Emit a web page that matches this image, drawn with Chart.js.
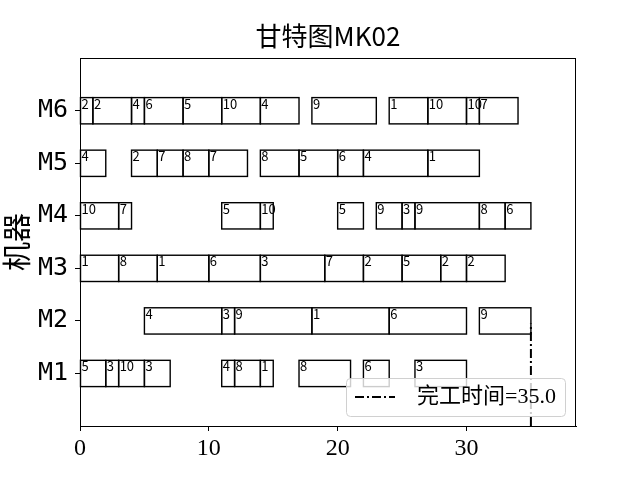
<!DOCTYPE html>
<html><head><meta charset="utf-8">
<script src="https://cdn.jsdelivr.net/npm/chart.js@4"></script>
<style>html,body{margin:0;padding:0;background:#fff}#wrap{width:640px;height:480px}</style>
</head><body><div id="wrap"><canvas id="c" width="640" height="480"></canvas></div>
<script>
const machines = ['M1','M2','M3','M4','M5','M6'];
const xTicks = [0,10,20,30];
const makespan = 35.0;
const makespanLineTop = 1.95;
const M1_jobs  = [5,3,10,3,4,8,1,8,6,3];
const M1_start = [0,2,3,5,11,12,14,17,22,26];
const M1_end   = [2,3,5,7,12,14,15,21,24,30];
const M2_jobs  = [4,3,9,1,6,9];
const M2_start = [5,11,12,18,24,31];
const M2_end   = [11,12,18,24,30,35];
const M3_jobs  = [1,8,1,6,3,7,2,5,2,2];
const M3_start = [0,3,6,10,14,19,22,25,28,30];
const M3_end   = [3,6,10,14,19,22,25,28,30,33];
const M4_jobs  = [10,7,5,10,5,9,3,9,8,6];
const M4_start = [0,3,11,14,20,23,25,26,31,33];
const M4_end   = [3,4,14,15,22,25,26,31,33,35];
const M5_jobs  = [4,2,7,8,7,8,5,6,4,1];
const M5_start = [0,4,6,8,10,14,17,20,22,27];
const M5_end   = [2,6,8,10,13,17,20,22,27,31];
const M6_jobs  = [2,2,4,6,5,10,4,9,1,10,10,7];
const M6_start = [0,1,4,5,8,11,14,18,24,27,30,31];
const M6_end   = [1,4,5,8,11,14,17,23,27,30,31,34];

const schedule = [
  [M1_jobs,M1_start,M1_end],[M2_jobs,M2_start,M2_end],[M3_jobs,M3_start,M3_end],
  [M4_jobs,M4_start,M4_end],[M5_jobs,M5_start,M5_end],[M6_jobs,M6_start,M6_end]
];

const barSets = schedule.map(([jobs,st,en],mi)=>({
  type:'bar',
  label: machines[mi],
  data: jobs.map((j,k)=>({x:[st[k],en[k]], y:mi+1, job:j})),
  backgroundColor:'rgba(255,255,255,0)',
  borderColor:'rgba(0,0,0,0)',
  borderWidth:0,
  grouped:false,
  categoryPercentage:1,
  barPercentage:0.5
}));

const lineSet = {
  type:'line',
  label:'完工时间=' + makespan.toFixed(1),
  data:[{x:makespan,y:0},{x:makespan,y:makespanLineTop}],
  borderColor:'#000',
  borderWidth:2,
  borderDash:[9,3,2,3],
  pointRadius:0,
  fill:false
};

const framePlugin = {
  id:'frame',
  afterDatasetsDraw(chart){
    const ctx = chart.ctx, a = chart.chartArea;
    ctx.save();
    chart.data.datasets.forEach((ds,di)=>{
      if (ds.type !== 'bar') return;
      const meta = chart.getDatasetMeta(di);
      meta.data.forEach((el,k)=>{
        const left = Math.min(el.x, el.base), right = Math.max(el.x, el.base);
        const top = el.y - el.height/2;
        ctx.strokeStyle = '#000';
        ctx.lineWidth = 1.4;
        ctx.strokeRect(left, top, right-left, el.height);
        ctx.font = '13px "Noto Sans CJK SC", "DejaVu Sans"';
        ctx.fillStyle = '#000';
        ctx.textAlign = 'left';
        ctx.textBaseline = 'top';
        ctx.fillText(String(ds.data[k].job), left + 1, top - 0.5);
      });
    });
    ctx.restore();
    ctx.save();
    ctx.strokeStyle = '#000';
    ctx.lineWidth = 1;
    ctx.strokeRect(Math.round(a.left)+0.5, Math.round(a.top)+0.5, Math.round(a.right-a.left)-1, Math.round(a.bottom-a.top));
    ctx.restore();
    ctx.save();
    const w = 219, h = 38;
    const lx = a.right - 11 - w, ly = a.bottom - 10 - h;
    ctx.beginPath();
    ctx.roundRect(lx+0.5, ly+0.5, w, h, 4);
    ctx.fillStyle = 'rgba(255,255,255,0.8)';
    ctx.fill();
    ctx.strokeStyle = '#d0d0d0';
    ctx.lineWidth = 1;
    ctx.stroke();
    ctx.beginPath();
    ctx.setLineDash([9,3,2,3]);
    ctx.strokeStyle = '#000';
    ctx.lineWidth = 2;
    ctx.moveTo(lx + 9, ly + 19);
    ctx.lineTo(lx + 49, ly + 19);
    ctx.stroke();
    ctx.setLineDash([]);
    ctx.fillStyle = '#000';
    ctx.font = '22px "Liberation Serif", "Noto Sans CJK SC"';
    ctx.textAlign = 'left';
    ctx.textBaseline = 'middle';
    ctx.fillText(lineSet.label, lx + 71, ly + 19);
    ctx.restore();
  }
};

new Chart(document.getElementById('c'), {
  data:{ datasets:[...barSets, lineSet] },
  options:{
    indexAxis:'y',
    responsive:false,
    animation:false,
    devicePixelRatio:1,
    layout:{padding:{left:0,right:64,top:0,bottom:0}},
    plugins:{
      legend:{display:false},
      tooltip:{enabled:false},
      title:{display:true, text:'甘特图MK02', fullSize:false, color:'#000',
        font:{family:'"Noto Sans CJK SC"', size:26, weight:'normal'}, padding:{top:21,bottom:6}}
    },
    scales:{
      x:{type:'linear', min:0, max:38.5, offset:false,
        afterBuildTicks:s=>{ s.ticks = xTicks.map(v=>({value:v})); },
        ticks:{color:'#000', font:{family:'"Liberation Serif"', size:24}, padding:3, maxRotation:0},
        grid:{drawOnChartArea:false, drawTicks:true, tickLength:5, color:'#000', offset:false},
        border:{display:true, color:'#000', width:1},
        afterFit:s=>{ s.height = 54; }
      },
      y:{type:'linear', min:0, max:7, offset:false,
        afterBuildTicks:s=>{ s.ticks = machines.map((m,i)=>({value:i+1})); },
        ticks:{color:'#000', font:{family:'"DejaVu Sans Mono"', size:25}, padding:7,
          callback:(v)=>machines[v-1]},
        grid:{drawOnChartArea:false, drawTicks:true, tickLength:5, color:'#000', offset:false},
        border:{display:true, color:'#000', width:1},
        title:{display:true, text:'机器', color:'#000', font:{family:'"Noto Sans CJK SC"', size:29}, padding:{top:0,bottom:0}},
        afterFit:s=>{ s.width = 80; }
      }
    }
  },
  plugins:[framePlugin]
});
</script>
</body></html>
